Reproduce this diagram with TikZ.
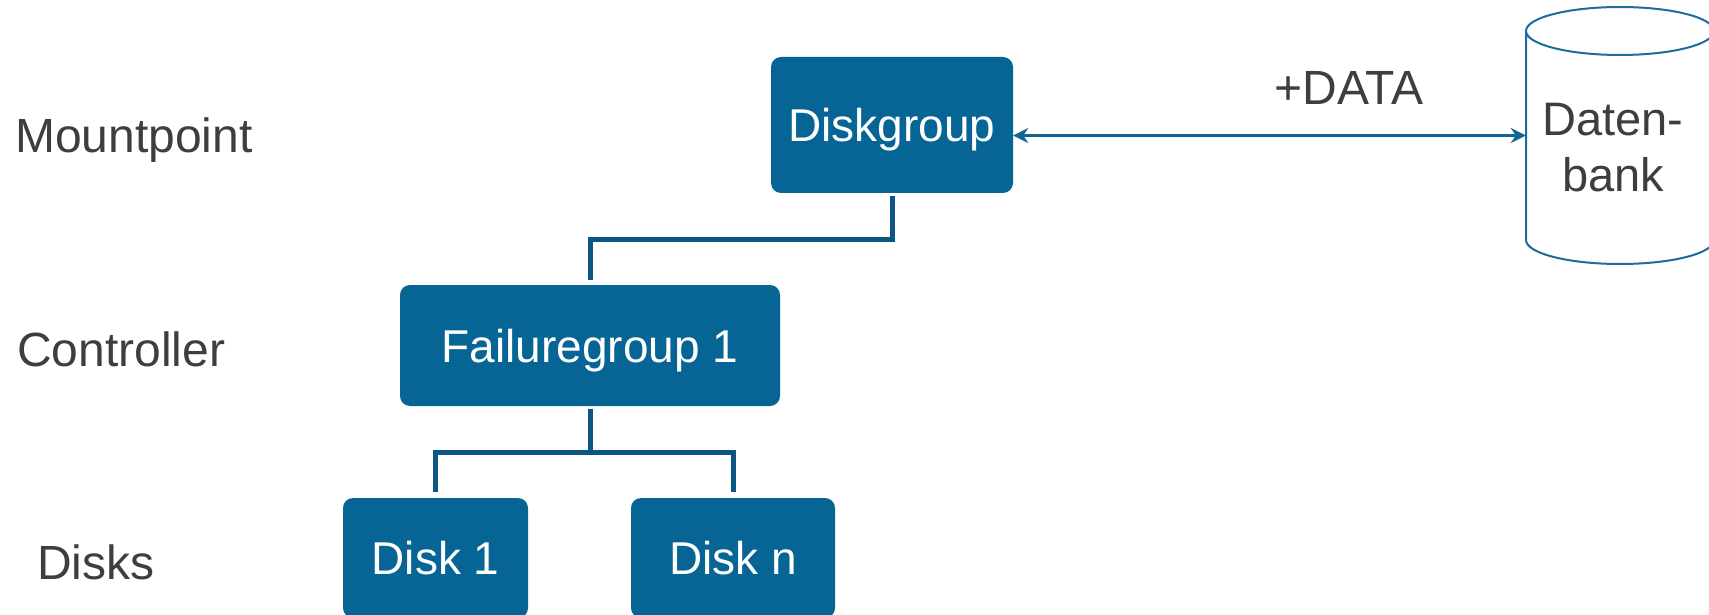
\documentclass[tikz,border=0pt]{standalone}
\usepackage{fontspec}
\setmainfont{Liberation Sans}
\usetikzlibrary{arrows.meta}
\definecolor{boxblue}{RGB}{6,101,148}
\definecolor{linkblue}{RGB}{11,86,130}
\definecolor{arrowblue}{RGB}{16,100,150}
\definecolor{cylblue}{RGB}{28,108,158}
\definecolor{labelgray}{RGB}{62,62,62}
\begin{document}
\begin{tikzpicture}[x=1pt,y=-1pt,
  box/.style={fill=boxblue, rounded corners=10pt, text=white, inner sep=0pt,
    font=\fontsize{46}{55}\selectfont, text height=33pt, text depth=0pt},
  lvl/.style={text=labelgray, inner sep=0pt, font=\fontsize{48}{56}\selectfont},
  link/.style={draw=linkblue, line width=5pt, line join=miter},
]
\useasboundingbox (0,0) rectangle (1709,615);
% boxes
\node[box, minimum width=242pt, minimum height=136pt] (dg) at (892,125) {Diskgroup};
\node[box, minimum width=380pt, minimum height=121pt] (fg) at (590,345.5) {Failuregroup 1};
\node[box, minimum width=185pt, minimum height=120pt] (d1) at (435.5,558) {Disk 1};
\node[box, minimum width=204pt, minimum height=120pt] (dn) at (733,558) {Disk n};
% level labels
\node[lvl, anchor=base west] (lm) at (15,153) {Mountpoint};
\node[lvl, anchor=base west] (lc) at (17,366) {Controller};
\node[lvl, anchor=base west] (ld) at (37,579) {Disks};
% database cylinder
\node[minimum width=188pt, minimum height=257pt, inner sep=0pt] (db) at (1620,135.5) {};
\draw[cylblue, line width=2pt]
  (1620,31) ellipse [x radius=94, y radius=24]
  (1526,31) -- (1526,240) arc [start angle=180, end angle=0, x radius=94, y radius=24]
  -- (1714,31);
\node[lvl, align=center, font=\fontsize{47}{56}\selectfont] (dbt) at (1613,148) {Daten-\\bank};
% connectors
\draw[link, shorten <=3pt, shorten >=5pt] (dg.south) -- ++(0,46) -| (fg.north);
\draw[link, shorten <=3pt] (fg.south) -- ++(0,46) coordinate (j);
\draw[link, shorten >=6pt] (j) -| (d1.north);
\draw[link, shorten >=6pt] (j) -| (dn.north);
% arrow
\draw[arrowblue, line width=3.5pt, {Stealth[length=15pt,width=15pt,inset=5pt]}-{Stealth[length=15pt,width=15pt,inset=5pt]}]
  (db.west -| dg.east) -- (db.west) node[pos=0.655, above=31pt, lvl, anchor=base] (dt) {+DATA};
\end{tikzpicture}
\end{document}
